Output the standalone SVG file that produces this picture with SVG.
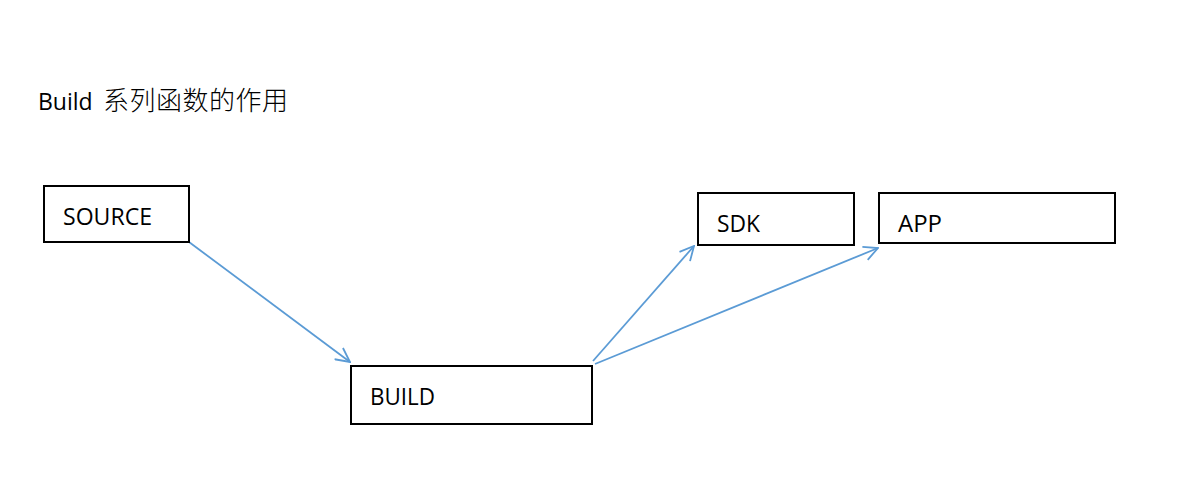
<svg xmlns="http://www.w3.org/2000/svg" width="1196" height="485" viewBox="0 0 1196 485">
<style>
.box{fill:#fff;stroke:#000;stroke-width:2}
.lbl{font-family:"Open Sans","Liberation Sans",sans-serif;font-size:23px;fill:#000}
.title{font-family:"Open Sans","Noto Sans CJK SC",sans-serif;font-size:23px;fill:#000}
.cjk{font-family:"Noto Sans CJK SC",sans-serif;font-size:26px;font-weight:300}
.conn{stroke:#5B9BD5;stroke-width:1.8;fill:none;marker-end:url(#arr)}
</style>
<defs>
<marker id="arr" viewBox="0 0 16 16" refX="15" refY="8" markerWidth="16" markerHeight="16" markerUnits="userSpaceOnUse" orient="auto">
<path d="M1,1 L15,8 L1,15" fill="none" stroke="#5B9BD5" stroke-width="1.8"/>
</marker>
</defs>
<rect width="1196" height="485" fill="#fff"/>
<text class="title" x="38" y="110">Build <tspan class="cjk" x="103" textLength="185" lengthAdjust="spacing">系列函数的作用</tspan></text>
<g id="connectors">
<line class="conn" x1="189" y1="242" x2="350" y2="362"/>
<line class="conn" x1="593" y1="361" x2="694" y2="246"/>
<line class="conn" x1="595" y1="364" x2="878" y2="248"/>
</g>
<g id="source"><rect class="box" x="44" y="186" width="145" height="56"/><text class="lbl" x="63" y="225" textLength="89" lengthAdjust="spacingAndGlyphs">SOURCE</text></g>
<g id="build"><rect class="box" x="351" y="366" width="241" height="58"/><text class="lbl" x="370" y="405" textLength="65" lengthAdjust="spacingAndGlyphs">BUILD</text></g>
<g id="sdk"><rect class="box" x="698" y="193" width="156" height="52"/><text class="lbl" x="717" y="232" textLength="43" lengthAdjust="spacingAndGlyphs">SDK</text></g>
<g id="app"><rect class="box" x="879" y="193" width="236" height="50"/><text class="lbl" x="898" y="232" textLength="44" lengthAdjust="spacingAndGlyphs">APP</text></g>
</svg>
